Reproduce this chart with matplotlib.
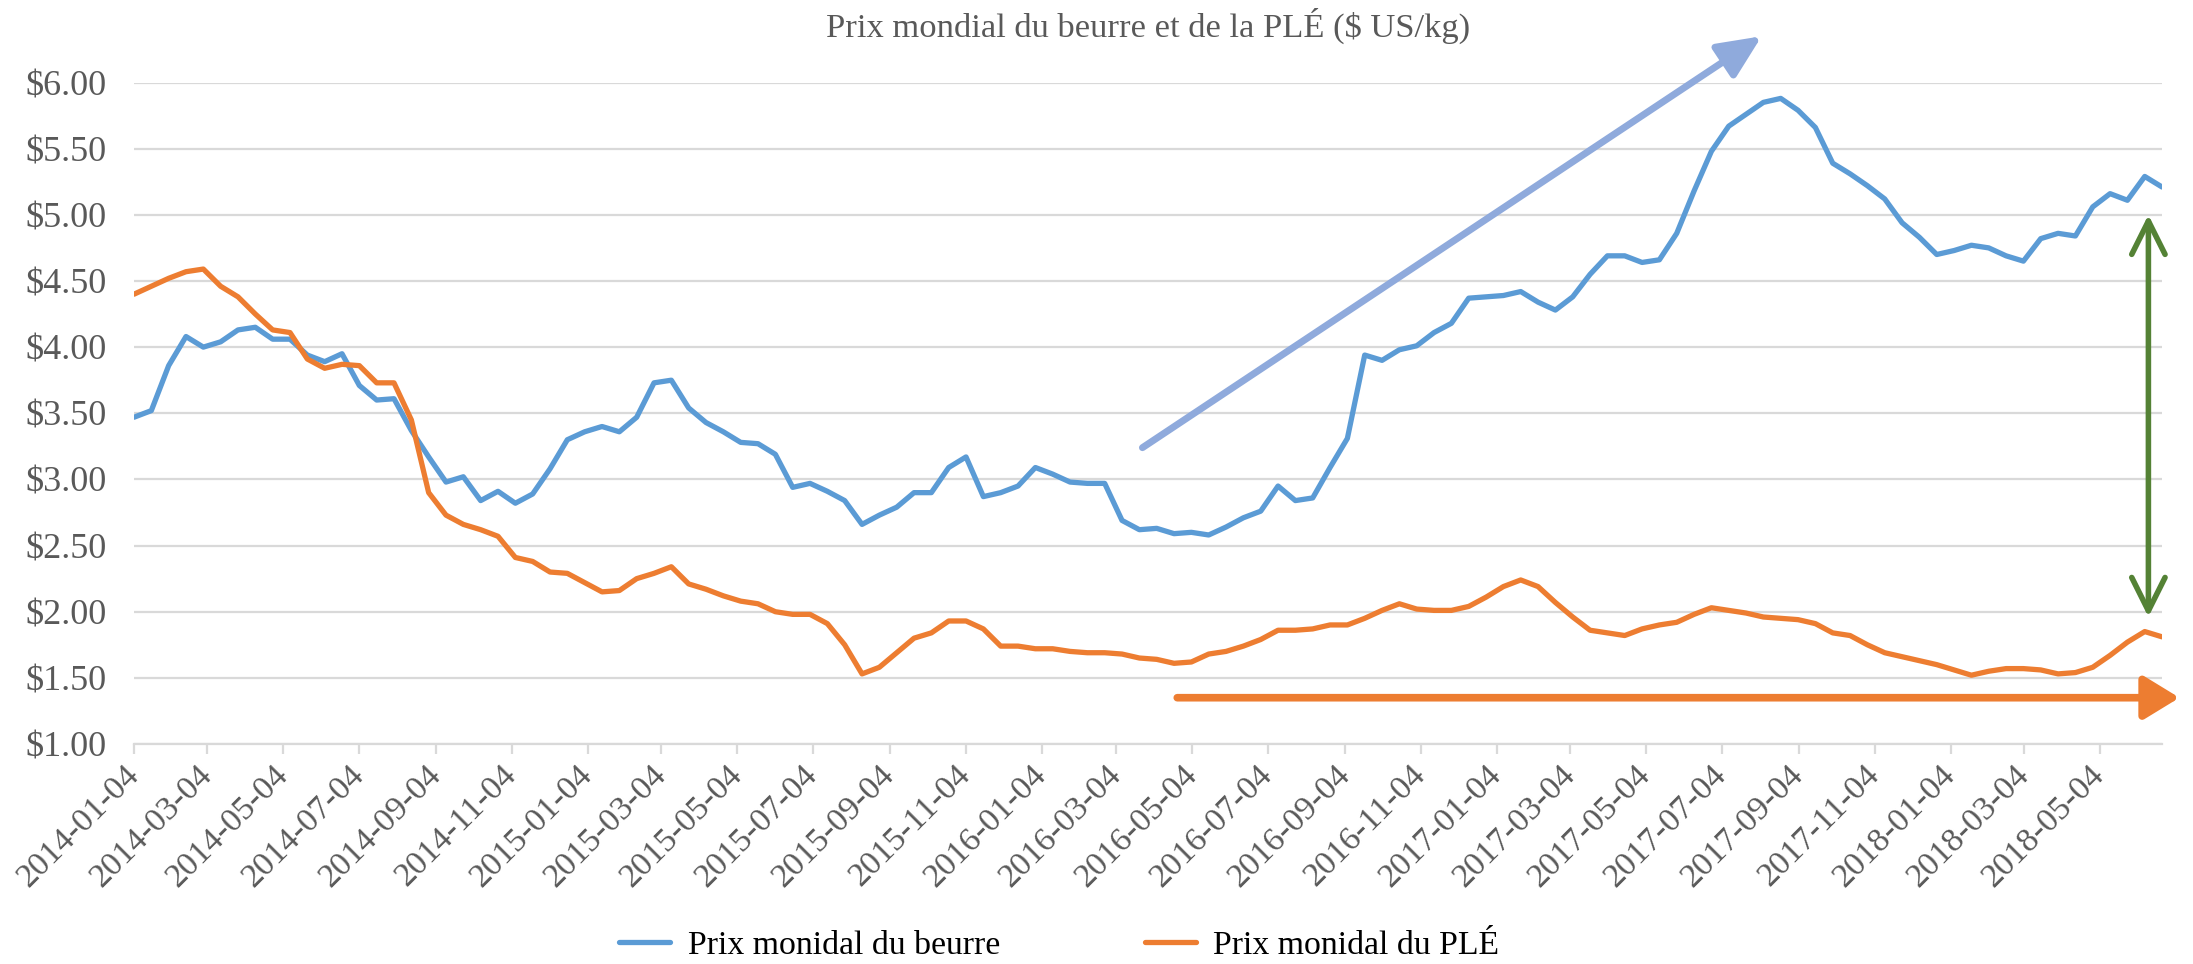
import pandas as pd
import matplotlib
matplotlib.use("Agg")
import matplotlib.pyplot as plt
import matplotlib.dates as mdates
from matplotlib.ticker import FuncFormatter

# auction dates (roughly every two weeks) and prices in $ US/kg
dates = pd.date_range("2014-01-04", "2018-06-23", periods=118)

beurre = [
    3.47, 3.52, 3.86, 4.08, 4.00, 4.04, 4.13, 4.15, 4.06, 4.06,
    3.94, 3.89, 3.95, 3.71, 3.60, 3.61, 3.37, 3.17, 2.98, 3.02,
    2.84, 2.91, 2.82, 2.89, 3.08, 3.30, 3.36, 3.40, 3.36, 3.47,
    3.73, 3.75, 3.54, 3.43, 3.36, 3.28, 3.27, 3.19, 2.94, 2.97,
    2.91, 2.84, 2.66, 2.73, 2.79, 2.90, 2.90, 3.09, 3.17, 2.87,
    2.90, 2.95, 3.09, 3.04, 2.98, 2.97, 2.97, 2.69, 2.62, 2.63,
    2.59, 2.60, 2.58, 2.64, 2.71, 2.76, 2.95, 2.84, 2.86, 3.09,
    3.31, 3.94, 3.90, 3.98, 4.01, 4.11, 4.18, 4.37, 4.38, 4.39,
    4.42, 4.34, 4.28, 4.38, 4.55, 4.69, 4.69, 4.64, 4.66, 4.86,
    5.18, 5.48, 5.67, 5.76, 5.85, 5.88, 5.79, 5.66, 5.39, 5.31,
    5.22, 5.12, 4.94, 4.83, 4.70, 4.73, 4.77, 4.75, 4.69, 4.65,
    4.82, 4.86, 4.84, 5.06, 5.16, 5.11, 5.29, 5.21,
]

ple = [
    4.40, 4.46, 4.52, 4.57, 4.59, 4.46, 4.38, 4.25, 4.13, 4.11,
    3.91, 3.84, 3.87, 3.86, 3.73, 3.73, 3.45, 2.90, 2.73, 2.66,
    2.62, 2.57, 2.41, 2.38, 2.30, 2.29, 2.22, 2.15, 2.16, 2.25,
    2.29, 2.34, 2.21, 2.17, 2.12, 2.08, 2.06, 2.00, 1.98, 1.98,
    1.91, 1.75, 1.53, 1.58, 1.69, 1.80, 1.84, 1.93, 1.93, 1.87,
    1.74, 1.74, 1.72, 1.72, 1.70, 1.69, 1.69, 1.68, 1.65, 1.64,
    1.61, 1.62, 1.68, 1.70, 1.74, 1.79, 1.86, 1.86, 1.87, 1.90,
    1.90, 1.95, 2.01, 2.06, 2.02, 2.01, 2.01, 2.04, 2.11, 2.19,
    2.24, 2.19, 2.07, 1.96, 1.86, 1.84, 1.82, 1.87, 1.90, 1.92,
    1.98, 2.03, 2.01, 1.99, 1.96, 1.95, 1.94, 1.91, 1.84, 1.82,
    1.75, 1.69, 1.66, 1.63, 1.60, 1.56, 1.52, 1.55, 1.57, 1.57,
    1.56, 1.53, 1.54, 1.58, 1.67, 1.77, 1.85, 1.81,
]

plt.rcParams['font.family'] = ['Liberation Serif', 'DejaVu Serif']

fig = plt.figure(figsize=(21.93, 9.64), dpi=100)
ax = fig.add_axes([0.0611, 0.2282, 0.9248, 0.6862])

ax.plot(dates, beurre, color='#5B9BD5', lw=3.8, solid_joinstyle='round',
        solid_capstyle='round', label='Prix monidal du beurre')
ax.plot(dates, ple, color='#ED7D31', lw=3.8, solid_joinstyle='round',
        solid_capstyle='round', label='Prix monidal du PLÉ')

ax.set_xlim(dates[0], dates[-1])
ax.set_ylim(1, 6)
ax.set_yticks([1, 1.5, 2, 2.5, 3, 3.5, 4, 4.5, 5, 5.5, 6])
ax.yaxis.set_major_formatter(FuncFormatter(lambda v, p: '$%.2f' % v))
ax.xaxis.set_major_locator(mdates.MonthLocator(bymonth=[1, 3, 5, 7, 9, 11], bymonthday=4))
ax.xaxis.set_major_formatter(mdates.DateFormatter('%Y-%m-%d'))

ax.grid(axis='y', color='#d9d9d9', lw=1.6)
ax.set_axisbelow(True)
for s in ['top', 'right', 'left']:
    ax.spines[s].set_visible(False)
ax.spines['bottom'].set_color('#d9d9d9')
ax.spines['bottom'].set_linewidth(1.6)

ax.tick_params(axis='y', length=0, pad=20, labelsize=26, labelcolor='#595959')
ax.tick_params(axis='x', length=7, width=1.6, color='#d9d9d9', pad=12,
               labelsize=24.5, labelcolor='#595959')
for lab in ax.get_xticklabels():
    lab.set_rotation(45)
    lab.set_ha('right')
    lab.set_va('center')
    lab.set_rotation_mode('anchor')

ax.set_title('Prix mondial du beurre et de la PLÉ ($ US/kg)', fontsize=24.8,
             color='#595959', pad=33)

# annotation arrows
ax.annotate('', xy=(pd.Timestamp('2017-08-05'), 6.35), xytext=(pd.Timestamp('2016-03-25'), 3.24),
            annotation_clip=False,
            arrowprops=dict(arrowstyle='-|>,head_length=1.1,head_width=0.5', color='#8FAADC',
                            lw=5, mutation_scale=24, shrinkA=0, shrinkB=0))
ax.annotate('', xy=(pd.Timestamp('2018-07-07'), 1.35), xytext=(pd.Timestamp('2016-04-22'), 1.35),
            annotation_clip=False,
            arrowprops=dict(arrowstyle='-|>,head_length=0.9,head_width=0.55', color='#ED7D31',
                            lw=5.5, mutation_scale=24, shrinkA=0, shrinkB=0))
ax.annotate('', xy=(pd.Timestamp('2018-06-12'), 5.0), xytext=(pd.Timestamp('2018-06-12'), 1.96),
            annotation_clip=False,
            arrowprops=dict(arrowstyle='<->,head_length=1.2,head_width=0.6', color='#548235',
                            lw=4, mutation_scale=20, shrinkA=0, shrinkB=0))

fig.legend(loc='center', bbox_to_anchor=(0.483, 0.019), ncol=2, frameon=False,
           fontsize=24.3, handlelength=1.5, handletextpad=0.53, columnspacing=4.3)

fig.savefig('out.png', dpi=100)
